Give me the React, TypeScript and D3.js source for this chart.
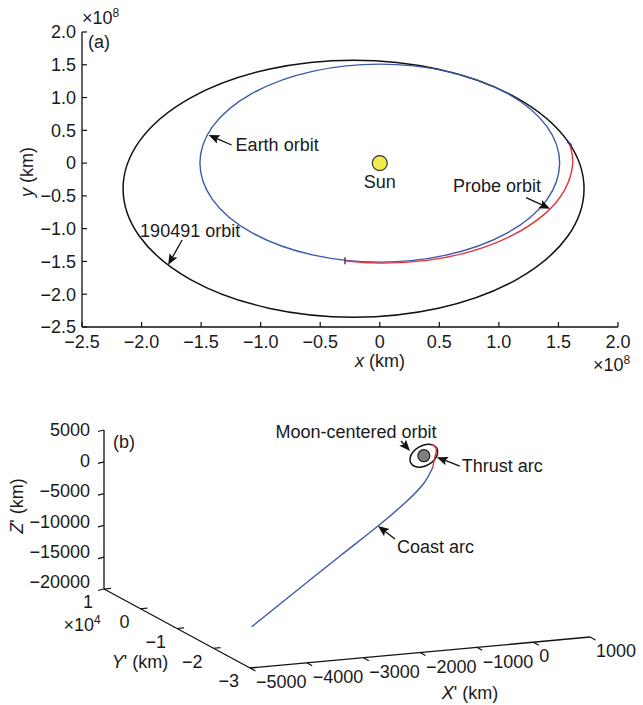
import React from 'react';
import * as d3 from 'd3';

const W = 643;
const H = 705;
const FONT = '"Liberation Sans", Arial, Helvetica, sans-serif';

// ---- (a) heliocentric view, units of 1e8 km ----
const xTicksA = [-2.5, -2, -1.5, -1, -0.5, 0, 0.5, 1, 1.5, 2];
const yTicksA = [-2.5, -2, -1.5, -1, -0.5, 0, 0.5, 1, 1.5, 2];

// orbits: centre and semi-axes (x, y)
const earthOrbitCenter = [0, 0];
const earthOrbitRadii = [1.51, 1.51];
const asteroidOrbitCenter = [-0.22, -0.39];
const asteroidOrbitRadii = [1.935, 1.96];

const probeOrbit: [number, number][] = [
  [-0.292, -1.49], [0.0, -1.525], [0.397, -1.483], [0.775, -1.342], [1.107, -1.107],
  [1.373, -0.793], [1.55, -0.415], [1.62, 0.0], [1.592, 0.3],
];

const sunPos: [number, number] = [0, 0];

const notesA = [
  { text: 'Earth orbit', at: [-1.437, 0.429], tail: [23, 10], label: [27, 10], anchor: 'start' },
  { text: 'Probe orbit', at: [1.43, -0.695], tail: [-24, -11], label: [-53, -23], anchor: 'middle' },
  { text: '190491 orbit', at: [-1.777, -1.554], tail: [14, -25], label: [-28, -34], anchor: 'start' },
];

// ---- (b) Moon-centred 3D view ----
const zTicksB = [5000, 0, -5000, -10000, -15000, -20000];
const yTicksB = [1, 0, -1, -2, -3]; // x1e4 km
const xTicksB = [-5000, -4000, -3000, -2000, -1000, 0, 1000];

// [X' km, Y' 1e4 km, Z' km]
const coastArc: [number, number, number][] = [
  [-3824, -1.22, -20000], [-2918, -1.0, -15953], [-1930, -0.7, -12027], [-1131, -0.5, -8580],
  [-508, -0.3, -5934], [-94, -0.15, -3749], [129, -0.05, -1723],
];
const thrustArc: [number, number, number][] = [
  [129, -0.05, -1723], [194, 0, -385], [233, 0.02, 785], [173, 0.05, 1525],
];
const moonOrbit: [number, number, number][] = [
  [229, 0, 992], [242, 0, 143], [191, 0, -745], [88, 0, -1434], [-38, 0, -1737], [-154, 0, -1577],
  [-229, 0, -992], [-242, 0, -143], [-191, 0, 745], [-88, 0, 1434], [38, 0, 1737], [154, 0, 1577],
];
const moonPos: [number, number, number] = [0, 0, 0];

const BLUE = '#3d5aa8';
const RED = '#e5343c';

const fmtA = (v: number) => (v === 0 ? '0' : d3.format('.1f')(v).replace('-', '\u2212'));
const fmtB = (v: number) => d3.format('d')(v).replace('-', '\u2212');

function Arrow({ tip, tail }: { tip: number[]; tail: number[] }) {
  const dx = tip[0] - tail[0];
  const dy = tip[1] - tail[1];
  const len = Math.hypot(dx, dy);
  const ux = dx / len;
  const uy = dy / len;
  const hl = 11;
  const hw = 4.5;
  const bx = tip[0] - ux * hl;
  const by = tip[1] - uy * hl;
  const pts = [
    [tip[0], tip[1]],
    [bx - uy * hw, by + ux * hw],
    [bx + ux * 2, by + uy * 2],
    [bx + uy * hw, by - ux * hw],
  ];
  return (
    <g>
      <line x1={tail[0]} y1={tail[1]} x2={bx + ux * 2} y2={by + uy * 2} stroke="#111" strokeWidth={1.3} />
      <polygon points={pts.map((p) => p.join(',')).join(' ')} fill="#111" />
    </g>
  );
}

export default function App() {
  // panel (a)
  const xA = d3.scaleLinear().domain([-2.5, 2]).range([82, 618]);
  const yA = d3.scaleLinear().domain([-2.5, 2]).range([327, 32]);
  const open = d3.line<[number, number]>().x((d) => xA(d[0])).y((d) => yA(d[1])).curve(d3.curveNatural);
  const ell = (c: number[], r: number[]) => ({
    cx: xA(c[0]),
    cy: yA(c[1]),
    rx: xA(c[0] + r[0]) - xA(c[0]),
    ry: yA(c[1]) - yA(c[1] + r[1]),
  });

  // panel (b)
  const X3 = d3.scaleLinear().domain([-5000, 1000]).range([0, 1]);
  const Y3 = d3.scaleLinear().domain([-3, 1]).range([0, 1]);
  const Z3 = d3.scaleLinear().domain([-20000, 5000]).range([0, 1]);
  const O = [250, 668];
  const VX = [340, -31];
  const VY = [-146, -79];
  const VZ = [0, -159];
  const proj = (p: number[]): [number, number] => [
    O[0] + X3(p[0]) * VX[0] + Y3(p[1]) * VY[0] + Z3(p[2]) * VZ[0],
    O[1] + X3(p[0]) * VX[1] + Y3(p[1]) * VY[1] + Z3(p[2]) * VZ[1],
  ];
  const line3 = d3.line<number[]>().x((d) => proj(d)[0]).y((d) => proj(d)[1]).curve(d3.curveNatural);
  const loop3 = d3.line<number[]>().x((d) => proj(d)[0]).y((d) => proj(d)[1]).curve(d3.curveCardinalClosed.tension(0.2));
  // z tick labels sit a little higher toward the bottom of the axis
  const zLabelShift = d3.scaleLinear().domain([5000, -20000]).range([0, -7]);

  const zAxis = [proj([-5000, 1, -20000]), proj([-5000, 1, 5000])];
  const yAxis = [proj([-5000, 1, -20000]), proj([-5000, -3, -20000])];
  const xAxis = [proj([-5000, -3, -20000]), proj([1000, -3, -20000])];
  const moonXY = proj(moonPos);

  const notesB = [
    { text: 'Coast arc', at: proj(coastArc[3]), tail: [17, 13], label: [19, 21], anchor: 'start' },
    { text: 'Thrust arc', at: proj(thrustArc[1]), tail: [23, 9], label: [25, 9], anchor: 'start', shift: [2, 0] },
    { text: 'Moon-centered orbit', at: proj(moonOrbit[8]), tail: [-9, -10], label: [-54, -19], anchor: 'middle', shift: [-3, -1] },
  ];

  const pStart = probeOrbit[0];
  const pEnd = probeOrbit[probeOrbit.length - 1];
  const earthE = ell(earthOrbitCenter, earthOrbitRadii);
  const astE = ell(asteroidOrbitCenter, asteroidOrbitRadii);

  return (
    <svg
      width={W}
      height={H}
      style={{ position: 'absolute', left: 0, top: 0, background: '#fff' }}
      fontFamily={FONT}
      fontSize={18}
      fill="#1a1a1a"
    >
      {/* ===== (a) ===== */}
      <g>
        <line x1={xA(-2.5)} y1={yA(-2.5)} x2={xA(-2.5)} y2={yA(2)} stroke="#111" strokeWidth={1.3} />
        <line x1={xA(-2.5)} y1={yA(-2.5)} x2={xA(2)} y2={yA(-2.5)} stroke="#111" strokeWidth={1.3} />
        {xTicksA.map((t) => (
          <g key={'xa' + t}>
            <line x1={xA(t)} x2={xA(t)} y1={yA(-2.5)} y2={yA(-2.5) - 5} stroke="#111" strokeWidth={1.2} />
            <text x={xA(t)} y={yA(-2.5) + 21} textAnchor="middle">{fmtA(t)}</text>
          </g>
        ))}
        {yTicksA.map((t) => (
          <g key={'ya' + t}>
            <line x1={xA(-2.5)} x2={xA(-2.5) + 5} y1={yA(t)} y2={yA(t)} stroke="#111" strokeWidth={1.2} />
            <text x={xA(-2.5) - 6} y={yA(t)} dy="0.35em" textAnchor="end">{fmtA(t)}</text>
          </g>
        ))}
        <text x={82} y={24}>
          ×10<tspan fontSize={12} dy={-7}>8</tspan>
        </text>
        <text x={593} y={371}>
          ×10<tspan fontSize={12} dy={-7}>8</tspan>
        </text>
        <text x={88} y={48}>(a)</text>
        <text x={380} y={367} textAnchor="middle">
          <tspan fontStyle="italic">x</tspan> (km)
        </text>
        <text transform="translate(33,172) rotate(-90)" textAnchor="middle">
          <tspan fontStyle="italic">y</tspan> (km)
        </text>

        <ellipse {...astE} fill="none" stroke="#111" strokeWidth={1.5} />
        <ellipse {...earthE} fill="none" stroke={BLUE} strokeWidth={1.4} />
        <path d={open(probeOrbit) || ''} fill="none" stroke={RED} strokeWidth={1.4} />
        <line x1={xA(pStart[0])} x2={xA(pStart[0])} y1={yA(pStart[1]) - 3.5} y2={yA(pStart[1]) + 3.5} stroke="#233a86" strokeWidth={1.4} />
        <line x1={xA(pEnd[0]) - 2} x2={xA(pEnd[0]) + 2} y1={yA(pEnd[1]) - 2} y2={yA(pEnd[1]) + 2} stroke="#233a86" strokeWidth={2} />

        <circle cx={xA(sunPos[0])} cy={yA(sunPos[1])} r={7.5} fill="#f1ee4c" stroke="#333" strokeWidth={1.2} />
        <text x={xA(sunPos[0])} y={yA(sunPos[1]) + 25} textAnchor="middle">Sun</text>

        {notesA.map((n) => {
          const tip = [xA(n.at[0]), yA(n.at[1])];
          return (
            <g key={n.text}>
              <Arrow tip={tip} tail={[tip[0] + n.tail[0], tip[1] + n.tail[1]]} />
              <text x={tip[0] + n.label[0]} y={tip[1] + n.label[1]} dy="0.35em" textAnchor={n.anchor}>
                {n.text}
              </text>
            </g>
          );
        })}
      </g>

      {/* ===== (b) ===== */}
      <g>
        <line x1={zAxis[0][0]} y1={zAxis[0][1]} x2={zAxis[1][0]} y2={zAxis[1][1]} stroke="#111" strokeWidth={1.3} />
        <line x1={yAxis[0][0]} y1={yAxis[0][1]} x2={yAxis[1][0]} y2={yAxis[1][1]} stroke="#111" strokeWidth={1.3} />
        <line x1={xAxis[0][0]} y1={xAxis[0][1]} x2={xAxis[1][0]} y2={xAxis[1][1]} stroke="#111" strokeWidth={1.3} />

        {zTicksB.map((t) => {
          const p = proj([-5000, 1, t]);
          return (
            <g key={'zb' + t}>
              <line x1={p[0]} y1={p[1]} x2={p[0] - 6} y2={p[1] + 1.5} stroke="#111" strokeWidth={1.2} />
              <text x={p[0] - 14} y={p[1] + zLabelShift(t)} dy="0.35em" textAnchor="end">{fmtB(t)}</text>
            </g>
          );
        })}
        {yTicksB.map((t) => {
          const p = proj([-5000, t, -20000]);
          return (
            <g key={'yb' + t}>
              <line x1={p[0]} y1={p[1]} x2={p[0] + 7} y2={p[1] - 0.7} stroke="#111" strokeWidth={1.2} />
              <text x={p[0] - 11} y={p[1] + 13} dy="0.35em" textAnchor="end">{fmtB(t)}</text>
            </g>
          );
        })}
        {xTicksB.map((t) => {
          const p = proj([t, -3, -20000]);
          return (
            <g key={'xb' + t}>
              <line x1={p[0]} y1={p[1]} x2={p[0] + 5.5} y2={p[1] + 3} stroke="#111" strokeWidth={1.2} />
              <text x={p[0] + 6} y={p[1] + 14} dy="0.35em" textAnchor="start">{fmtB(t)}</text>
            </g>
          );
        })}

        <text x={124} y={442} dy="0.35em" textAnchor="middle">(b)</text>
        <text transform="translate(17,506) rotate(-90)" dy="0.35em" textAnchor="middle">
          <tspan fontStyle="italic">Z</tspan>' (km)
        </text>
        <text x={82} y={625} dy="0.35em" textAnchor="middle">
          ×10<tspan fontSize={12} dy={-7}>4</tspan>
        </text>
        <text x={140} y={662} dy="0.35em" textAnchor="middle">
          <tspan fontStyle="italic">Y</tspan>' (km)
        </text>
        <text x={470} y={693} dy="0.35em" textAnchor="middle">
          <tspan fontStyle="italic">X</tspan>' (km)
        </text>

        <path d={loop3(moonOrbit) || ''} fill="none" stroke="#111" strokeWidth={1.5} />
        <circle cx={moonXY[0]} cy={moonXY[1]} r={6} fill="#808080" stroke="#222" strokeWidth={1.2} />
        <path d={line3(coastArc) || ''} fill="none" stroke={BLUE} strokeWidth={1.4} />
        <path d={line3(thrustArc) || ''} fill="none" stroke={RED} strokeWidth={1.4} />

        {notesB.map((n) => {
          const s = n.shift || [0, 0];
          const tip = [n.at[0] + s[0], n.at[1] + s[1]];
          return (
            <g key={n.text}>
              <Arrow tip={tip} tail={[tip[0] + n.tail[0], tip[1] + n.tail[1]]} />
              <text x={tip[0] + n.label[0]} y={tip[1] + n.label[1]} dy="0.35em" textAnchor={n.anchor}>
                {n.text}
              </text>
            </g>
          );
        })}
      </g>
    </svg>
  );
}
